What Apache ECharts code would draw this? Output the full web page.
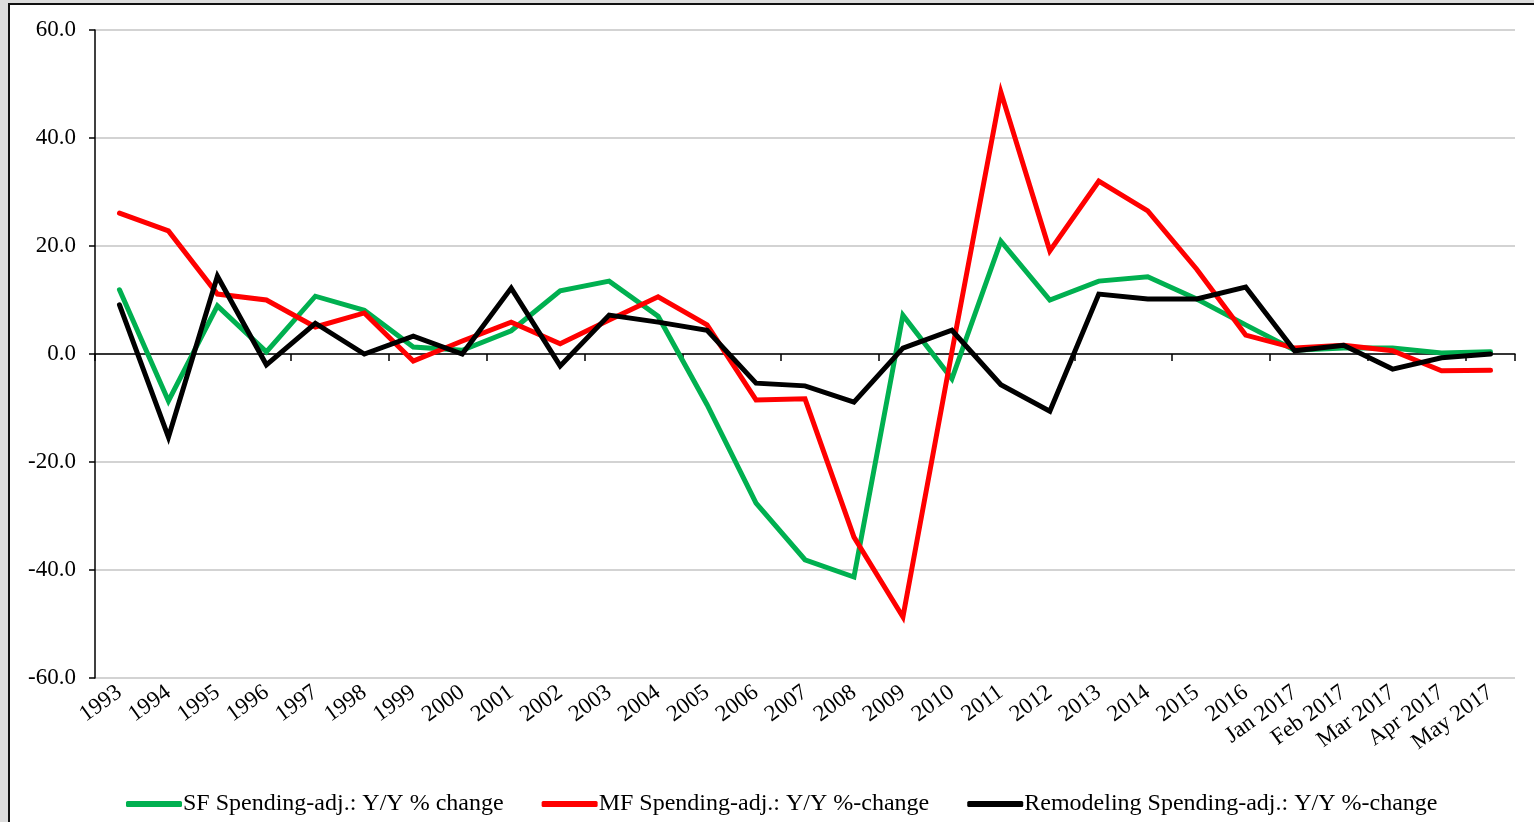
<!DOCTYPE html>
<html>
<head>
<meta charset="utf-8">
<script src="https://cdn.jsdelivr.net/npm/echarts@6/dist/echarts.min.js"></script>
<style>
  html, body { margin: 0; padding: 0; }
  body { width: 1534px; height: 822px; background: #dcdcdc; position: relative; overflow: hidden; }
  #frame { position: absolute; left: 8px; top: 3px; width: 1540px; height: 840px; background: #fff; border-left: 2px solid #111; border-top: 2px solid #111; }
  #chart { position: absolute; left: 0; top: 0; width: 1534px; height: 822px; }
</style>
</head>
<body>
<div id="frame"></div>
<div id="chart"></div>
<script>
// Period labels along the category axis
const categories = ['1993','1994','1995','1996','1997','1998','1999','2000','2001','2002','2003','2004',
  '2005','2006','2007','2008','2009','2010','2011','2012','2013','2014','2015','2016',
  'Jan 2017','Feb 2017','Mar 2017','Apr 2017','May 2017'];

// Year-over-year % change, spending adjusted
const sfSpending = [11.9, -8.7, 8.9, 0.4, 10.7, 8.1, 1.3, 0.7, 4.3, 11.7, 13.5, 7.0,
  -9.4, -27.6, -38.1, -41.3, 7.2, -4.6, 20.9, 10.0, 13.5, 14.3, 10.2, 5.4,
  0.7, 1.1, 1.1, 0.2, 0.4];
const mfSpending = [26.1, 22.8, 11.1, 10.0, 5.0, 7.6, -1.3, 2.4, 5.9, 1.9, 6.3, 10.6,
  5.4, -8.5, -8.3, -33.9, -48.7, 0.4, 48.5, 19.1, 32.0, 26.5, 15.7, 3.5,
  1.1, 1.6, 0.6, -3.1, -3.0];
const remodelingSpending = [9.1, -15.4, 14.4, -2.0, 5.7, 0.0, 3.3, 0.0, 12.2, -2.2, 7.2, 5.9,
  4.4, -5.4, -5.9, -8.9, 1.1, 4.4, -5.7, -10.6, 11.1, 10.2, 10.2, 12.4,
  0.6, 1.6, -2.8, -0.7, 0.0];

const yTicks = { min: -60, max: 60, interval: 20 };

const seriesNames = [
  'SF Spending-adj.: Y/Y % change',
  'MF Spending-adj.: Y/Y %-change',
  'Remodeling Spending-adj.: Y/Y %-change'
];

const font = 'Liberation Serif, Times New Roman, serif';
const chart = echarts.init(document.getElementById('chart'));

function lineSeries(name, data, color, xIndex) {
  return {
    name: name, type: 'line', data: data, xAxisIndex: xIndex,
    symbol: 'none', smooth: false,
    lineStyle: { color: color, width: 5, cap: 'round', join: 'miter' },
    itemStyle: { color: color }
  };
}

chart.setOption({
  backgroundColor: 'transparent',
  animation: false,
  grid: { left: 95, right: 19, top: 30, bottom: 144 },
  xAxis: [
    {
      type: 'category', data: categories, boundaryGap: true,
      axisLine: { onZero: true, lineStyle: { color: '#000', width: 1.5 } },
      axisTick: { show: true, length: 7, inside: false, lineStyle: { color: '#000', width: 1.5 } },
      axisLabel: { show: false },
      splitLine: { show: false }
    },
    {
      type: 'category', data: categories, boundaryGap: true, position: 'bottom',
      axisLine: { show: false, onZero: false },
      axisTick: { show: false },
      axisLabel: {
        show: true, interval: 0, rotate: 36, margin: 12,
        fontFamily: font, fontSize: 23, color: '#000'
      },
      splitLine: { show: false }
    }
  ],
  yAxis: {
    type: 'value', min: yTicks.min, max: yTicks.max, interval: yTicks.interval,
    axisLine: { show: true, lineStyle: { color: '#000', width: 1.5 } },
    axisTick: { show: true, length: 6, lineStyle: { color: '#000', width: 1.5 } },
    axisLabel: {
      fontFamily: font, fontSize: 23, color: '#000', margin: 19,
      formatter: v => v.toFixed(1)
    },
    splitLine: { show: true, lineStyle: { color: '#c4c4c4', width: 1.5 } }
  },
  legend: {
    bottom: 1, left: 121,
    icon: 'roundRect', itemWidth: 56, itemHeight: 6, itemGap: 38,
    textStyle: { fontFamily: font, fontSize: 24, color: '#000', padding: [0, 0, 0, -4] },
    data: seriesNames
  },
  series: [
    lineSeries(seriesNames[0], sfSpending, '#00b050', 0),
    lineSeries(seriesNames[1], mfSpending, '#ff0000', 0),
    lineSeries(seriesNames[2], remodelingSpending, '#000000', 0)
  ]
});
</script>
</body>
</html>
